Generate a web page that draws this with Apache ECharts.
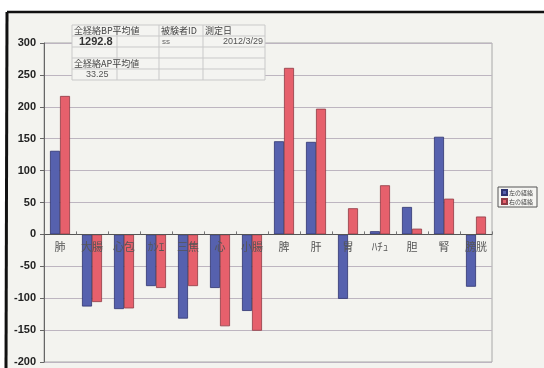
<!DOCTYPE html>
<html>
<head>
<meta charset="utf-8">
<script src="https://cdn.jsdelivr.net/npm/echarts@6/dist/echarts.min.js"></script>
<style>
html,body{margin:0;padding:0;background:#fff;}
#main{width:544px;height:368px;}
</style>
</head>
<body>
<div id="main"></div>
<script>
const categories = ["肺","大腸","心包","ｶﾝｴ","三焦","心","小腸","脾","肝","胃","ﾊﾁｭ","胆","腎","膀胱"];
const leftValues = [131,-113,-117,-81,-132,-84,-120,146,145,-101,5,43,153,-82];
const rightValues = [217,-106,-116,-84,-81,-144,-151,261,197,41,77,9,56,28];
const seriesNames = ["左の経絡","右の経絡"];
const bpAvg = "1292.8";
const apAvg = "33.25";
const subjectId = "ss";
const measureDate = "2012/3/29";

const mainEl = document.getElementById("main");
const chart = echarts.init(mainEl);

const jp = '"Noto Sans CJK JP", sans-serif';
const lineStyle = {stroke:'#c9c9c9', lineWidth:1};

// table in the upper left
const rowsY = [25,36,47,58,69,80];
const colsX = [72,117,159,203,265];
const tableLines = [];
rowsY.forEach(y => tableLines.push({type:'line', shape:{x1:colsX[0],y1:y,x2:colsX[4],y2:y}, style:lineStyle, z:10}));
colsX.forEach(x => tableLines.push({type:'line', shape:{x1:x,y1:rowsY[0],x2:x,y2:rowsY[5]}, style:lineStyle, z:10}));

const txt = (x, y, s, opts) => Object.assign({type:'text', x:x, y:y, z:11,
  style:Object.assign({text:s, fill:'#444', font:'9px ' + jp, textVerticalAlign:'middle'}, opts || {})});

// grid geometry: y from -200 to 300 over 319px, zero line sits 127.6px above the bottom
const gridTop = 43, gridH = 319;
const zeroOffset = -gridH * 200 / 500;

const option = {
  backgroundColor:'#f3f3ef',
  animation:false,
  grid:{left:44, top:gridTop, width:448, height:gridH, show:true, borderColor:'#a8a8a8', borderWidth:1, backgroundColor:'#f3f3ef'},
  legend:{
    data:seriesNames, orient:'vertical', left:498, top:187,
    itemWidth:5, itemHeight:5, itemGap:2, padding:[2,4,2,3],
    borderColor:'#555', borderWidth:1, backgroundColor:'#f5f5f2',
    textStyle:{fontSize:6, color:'#444', fontFamily:jp, padding:[0,0,0,-3]},
    icon:'rect'
  },
  xAxis:{
    type:'category', data:categories, position:'bottom', offset:zeroOffset, z:6,
    axisLine:{onZero:false, lineStyle:{color:'#555', width:1}},
    axisTick:{show:true, inside:true, length:3, lineStyle:{color:'#777'}},
    axisLabel:{color:'#555', fontSize:11, fontFamily:jp, margin:7, interval:0}
  },
  yAxis:{
    type:'value', min:-200, max:300, interval:50,
    axisLine:{show:true, lineStyle:{color:'#666'}},
    axisTick:{show:true, length:4, inside:false, lineStyle:{color:'#666'}},
    axisLabel:{color:'#222', fontSize:11, fontWeight:'bold', fontFamily:'"Liberation Sans", Arial, sans-serif', margin:8},
    splitLine:{lineStyle:{color:'#bdb5c0', width:1}}
  },
  series:[
    {name:seriesNames[0], type:'bar', data:leftValues, barWidth:10, barGap:'0%',
     itemStyle:{color:'#5661ae', borderColor:'#2e3370', borderWidth:0.8}},
    {name:seriesNames[1], type:'bar', data:rightValues, barWidth:10,
     itemStyle:{color:'#e6606c', borderColor:'#8e3a44', borderWidth:0.8}}
  ],
  graphic:[
    {type:'rect', shape:{x:colsX[0], y:rowsY[0], width:colsX[4]-colsX[0], height:rowsY[5]-rowsY[0]}, style:{fill:'#f4f4f1'}, z:9},
    ...tableLines,
    txt(74, 30.5, '全経絡BP平均値'),
    txt(161, 30.5, '被験者ID'),
    txt(205, 30.5, '測定日'),
    txt(79, 41.5, bpAvg, {font:'bold 11px "Liberation Sans", Arial, sans-serif', fill:'#333'}),
    txt(162, 42, subjectId, {font:'8px "Liberation Sans", Arial, sans-serif', fill:'#666'}),
    txt(263, 41.5, measureDate, {font:'9px "Liberation Sans", Arial, sans-serif', fill:'#555', textAlign:'right'}),
    txt(74, 63.5, '全経絡AP平均値'),
    txt(86, 74.5, apAvg, {font:'9px "Liberation Sans", Arial, sans-serif', fill:'#555'}),
    // outer frame of the scanned sheet
    {type:'rect', shape:{x:0, y:0, width:544, height:12}, style:{fill:'#ffffff'}, z:20},
    {type:'rect', shape:{x:0, y:0, width:6, height:368}, style:{fill:'#ffffff'}, z:20},
    {type:'line', shape:{x1:7, y1:12, x2:544, y2:12}, style:{stroke:'#111', lineWidth:2.5}, z:21},
    {type:'line', shape:{x1:7, y1:12, x2:6, y2:368}, style:{stroke:'#111', lineWidth:3}, z:21}
  ]
};

chart.setOption(option);
</script>
</body>
</html>
